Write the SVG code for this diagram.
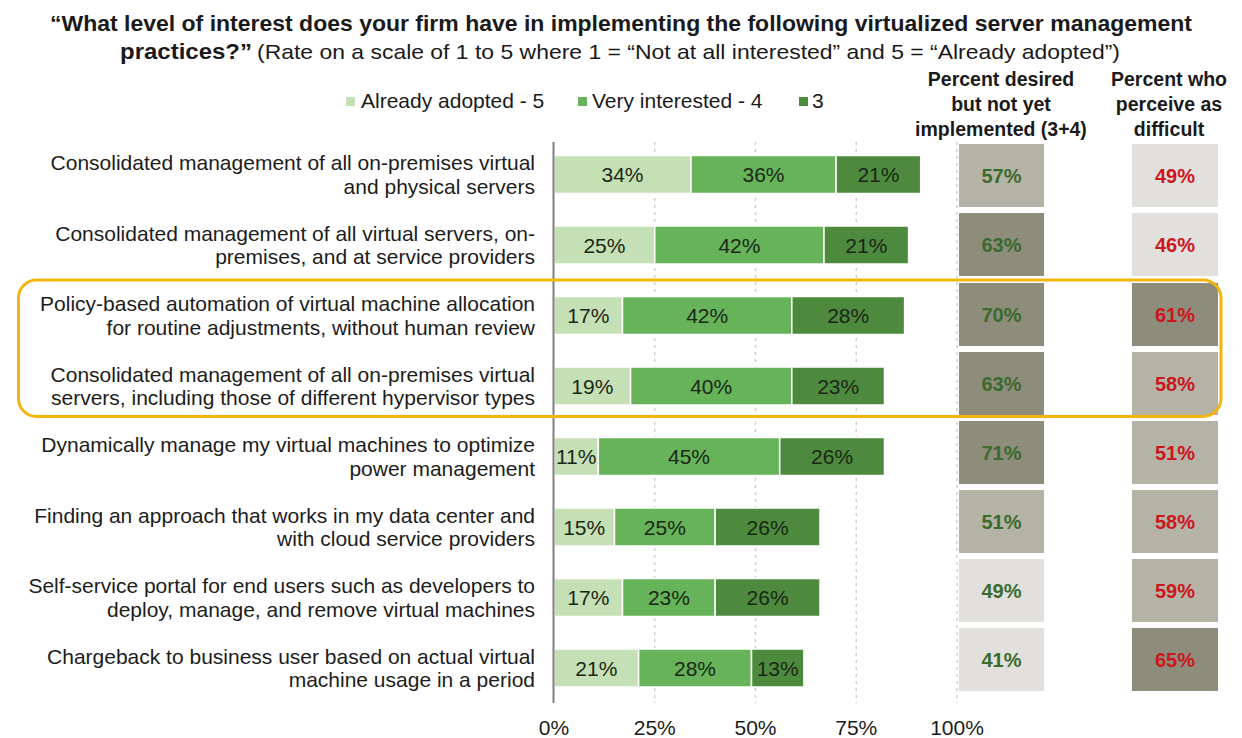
<svg xmlns="http://www.w3.org/2000/svg" width="1242" height="738" viewBox="0 0 1242 738">
<style>
text{font-family:"Liberation Sans",Arial,sans-serif;fill:#1a1a1a}
.t1{font-size:22px;font-weight:bold}
.t2{font-size:21px}
.lbl{font-size:21px;text-anchor:end;fill:#1c1c1c}
.leg{font-size:21px}
.hdr{font-size:19.5px;font-weight:bold;text-anchor:middle;fill:#1a1a1a}
.ax{font-size:21px;text-anchor:middle;fill:#1c1c1c}
.bv{font-size:21px;text-anchor:middle;fill:#1b2716}
.s5{fill:#c5e0b4;stroke:#fff;stroke-width:1.5}
.s4{fill:#66b35a;stroke:#fff;stroke-width:1.5}
.s3{fill:#4d8a3e;stroke:#fff;stroke-width:1.5}
.bl{fill:#e2e0dc}
.bm{fill:#b5b3a6}
.bd{fill:#8e8c7a}
.pg{font-size:20px;font-weight:bold;text-anchor:middle;fill:#3b6b2e}
.pr{font-size:20px;font-weight:bold;text-anchor:middle;fill:#cc161e}
.grid{stroke:#cfcfcf;stroke-width:1.5;stroke-dasharray:3 4}
</style>

<g id="title">
<text class="t1" x="50" y="31" textLength="1142" lengthAdjust="spacingAndGlyphs">“What level of interest does your firm have in implementing the following virtualized server management</text>
<text class="t1" x="120" y="59" textLength="132" lengthAdjust="spacingAndGlyphs">practices?”</text>
<text class="t2" x="257" y="59" textLength="863" lengthAdjust="spacingAndGlyphs">(Rate on a scale of 1 to 5 where 1 = “Not at all interested” and 5 = “Already adopted”)</text>
</g>

<g id="legend">
<rect class="s5" x="346" y="97" width="9" height="9" style="stroke:none"/>
<text class="leg" x="361" y="108">Already adopted - 5</text>
<rect class="s4" x="578" y="97" width="9" height="9" style="stroke:none"/>
<text class="leg" x="592" y="108">Very interested - 4</text>
<rect class="s3" x="799" y="97" width="9" height="9" style="stroke:none"/>
<text class="leg" x="812" y="108">3</text>
</g>

<g id="headers">
<text class="hdr" x="1001" y="86">Percent desired</text>
<text class="hdr" x="1001" y="111">but not yet</text>
<text class="hdr" x="1001" y="136">implemented (3+4)</text>
<text class="hdr" x="1169" y="86">Percent who</text>
<text class="hdr" x="1169" y="111">perceive as</text>
<text class="hdr" x="1169" y="136">difficult</text>
</g>

<g id="gridlines">
<line class="grid" x1="654.75" y1="142" x2="654.75" y2="703"/>
<line class="grid" x1="755.5" y1="142" x2="755.5" y2="703"/>
<line class="grid" x1="856.25" y1="142" x2="856.25" y2="703"/>
<line class="grid" x1="957" y1="142" x2="957" y2="703"/>
</g>

<g id="row1">
<text class="lbl" x="535" y="170">Consolidated management of all on-premises virtual</text>
<text class="lbl" x="535" y="193.5">and physical servers</text>
<rect class="s5" x="554" y="155.5" width="137" height="38"/>
<rect class="s4" x="691" y="155.5" width="145.1" height="38"/>
<rect class="s3" x="836.1" y="155.5" width="84.6" height="38"/>
<text class="bv" x="622.5" y="182">34%</text>
<text class="bv" x="763.5" y="182">36%</text>
<text class="bv" x="878.4" y="182">21%</text>
<rect class="bm" x="959" y="144" width="85" height="63"/>
<text class="pg" x="1001.5" y="183">57%</text>
<rect class="bl" x="1132" y="144" width="86" height="63"/>
<text class="pr" x="1175" y="183">49%</text>
</g>

<g id="row2">
<text class="lbl" x="535" y="240.5">Consolidated management of all virtual servers, on-</text>
<text class="lbl" x="535" y="264">premises, and at service providers</text>
<rect class="s5" x="554" y="226" width="100.75" height="38"/>
<rect class="s4" x="654.75" y="226" width="169.25" height="38"/>
<rect class="s3" x="824" y="226" width="84.6" height="38"/>
<text class="bv" x="604.4" y="252.5">25%</text>
<text class="bv" x="739.4" y="252.5">42%</text>
<text class="bv" x="866.3" y="252.5">21%</text>
<rect class="bd" x="959" y="213" width="85" height="63"/>
<text class="pg" x="1001.5" y="252">63%</text>
<rect class="bl" x="1132" y="213" width="86" height="63"/>
<text class="pr" x="1175" y="252">46%</text>
</g>

<g id="row3">
<text class="lbl" x="535" y="311">Policy-based automation of virtual machine allocation</text>
<text class="lbl" x="535" y="334.5">for routine adjustments, without human review</text>
<rect class="s5" x="554" y="296.5" width="68.5" height="38"/>
<rect class="s4" x="622.5" y="296.5" width="169.3" height="38"/>
<rect class="s3" x="791.8" y="296.5" width="112.8" height="38"/>
<text class="bv" x="588.3" y="323">17%</text>
<text class="bv" x="707.2" y="323">42%</text>
<text class="bv" x="848.2" y="323">28%</text>
<rect class="bd" x="959" y="283" width="85" height="63"/>
<text class="pg" x="1001.5" y="322">70%</text>
<rect class="bd" x="1132" y="283" width="86" height="63"/>
<text class="pr" x="1175" y="322">61%</text>
</g>

<g id="row4">
<text class="lbl" x="535" y="381.5">Consolidated management of all on-premises virtual</text>
<text class="lbl" x="535" y="405">servers, including those of different hypervisor types</text>
<rect class="s5" x="554" y="367" width="76.6" height="38"/>
<rect class="s4" x="630.6" y="367" width="161.2" height="38"/>
<rect class="s3" x="791.8" y="367" width="92.7" height="38"/>
<text class="bv" x="592.3" y="393.5">19%</text>
<text class="bv" x="711.2" y="393.5">40%</text>
<text class="bv" x="838.2" y="393.5">23%</text>
<rect class="bd" x="959" y="352" width="85" height="63"/>
<text class="pg" x="1001.5" y="391">63%</text>
<rect class="bm" x="1132" y="352" width="86" height="63"/>
<text class="pr" x="1175" y="391">58%</text>
</g>

<g id="row5">
<text class="lbl" x="535" y="452">Dynamically manage my virtual machines to optimize</text>
<text class="lbl" x="535" y="475.5">power management</text>
<rect class="s5" x="554" y="437.5" width="44.3" height="38"/>
<rect class="s4" x="598.3" y="437.5" width="181.4" height="38"/>
<rect class="s3" x="779.7" y="437.5" width="104.8" height="38"/>
<text class="bv" x="576.2" y="464">11%</text>
<text class="bv" x="689" y="464">45%</text>
<text class="bv" x="832.1" y="464">26%</text>
<rect class="bd" x="959" y="421" width="85" height="63"/>
<text class="pg" x="1001.5" y="460">71%</text>
<rect class="bm" x="1132" y="421" width="86" height="63"/>
<text class="pr" x="1175" y="460">51%</text>
</g>

<g id="row6">
<text class="lbl" x="535" y="522.5">Finding an approach that works in my data center and</text>
<text class="lbl" x="535" y="546">with cloud service providers</text>
<rect class="s5" x="554" y="508" width="60.5" height="38"/>
<rect class="s4" x="614.5" y="508" width="100.7" height="38"/>
<rect class="s3" x="715.2" y="508" width="104.8" height="38"/>
<text class="bv" x="584.2" y="534.5">15%</text>
<text class="bv" x="664.8" y="534.5">25%</text>
<text class="bv" x="767.6" y="534.5">26%</text>
<rect class="bm" x="959" y="490" width="85" height="63"/>
<text class="pg" x="1001.5" y="529">51%</text>
<rect class="bm" x="1132" y="490" width="86" height="63"/>
<text class="pr" x="1175" y="529">58%</text>
</g>

<g id="row7">
<text class="lbl" x="535" y="593">Self-service portal for end users such as developers to</text>
<text class="lbl" x="535" y="616.5">deploy, manage, and remove virtual machines</text>
<rect class="s5" x="554" y="578.5" width="68.5" height="38"/>
<rect class="s4" x="622.5" y="578.5" width="92.7" height="38"/>
<rect class="s3" x="715.2" y="578.5" width="104.8" height="38"/>
<text class="bv" x="588.3" y="605">17%</text>
<text class="bv" x="668.9" y="605">23%</text>
<text class="bv" x="767.6" y="605">26%</text>
<rect class="bl" x="959" y="559" width="85" height="63"/>
<text class="pg" x="1001.5" y="598">49%</text>
<rect class="bm" x="1132" y="559" width="86" height="63"/>
<text class="pr" x="1175" y="598">59%</text>
</g>

<g id="row8">
<text class="lbl" x="535" y="663.5">Chargeback to business user based on actual virtual</text>
<text class="lbl" x="535" y="687">machine usage in a period</text>
<rect class="s5" x="554" y="649" width="84.6" height="38"/>
<rect class="s4" x="638.6" y="649" width="112.9" height="38"/>
<rect class="s3" x="751.5" y="649" width="52.4" height="38"/>
<text class="bv" x="596.3" y="675.5">21%</text>
<text class="bv" x="695" y="675.5">28%</text>
<text class="bv" x="777.7" y="675.5">13%</text>
<rect class="bl" x="959" y="628" width="85" height="63"/>
<text class="pg" x="1001.5" y="667">41%</text>
<rect class="bd" x="1132" y="628" width="86" height="63"/>
<text class="pr" x="1175" y="667">65%</text>
</g>

<g id="axis">
<line x1="553.5" y1="142" x2="553.5" y2="703" stroke="#7f7f7f" stroke-width="2"/>
<text class="ax" x="554" y="735">0%</text>
<text class="ax" x="654.75" y="735">25%</text>
<text class="ax" x="755.5" y="735">50%</text>
<text class="ax" x="856.25" y="735">75%</text>
<text class="ax" x="957" y="735">100%</text>
</g>

<g id="highlight">
<rect x="18.5" y="280" width="1202.5" height="136.5" rx="18" ry="18" fill="none" stroke="#f2b50c" stroke-width="3"/>
</g>
</svg>
